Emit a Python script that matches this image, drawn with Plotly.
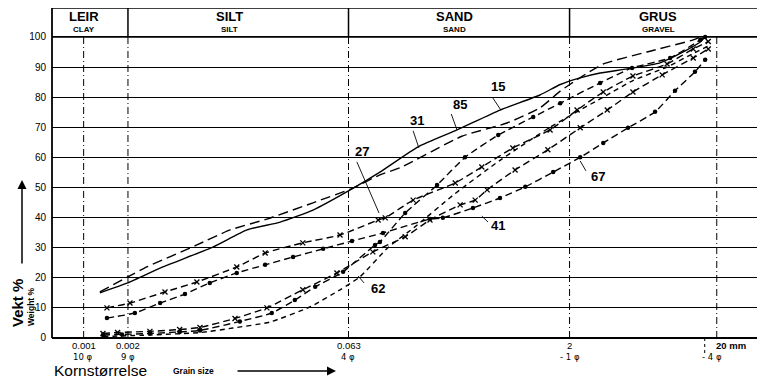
import math
import plotly.graph_objects as go

# ---------------- data (grain size in phi units, cumulative weight %) ----------------
s85_phi = [9.60, 8.97, 8.54, 7.41, 6.66, 5.83, 4.79, 3.89, 3.28, 2.83, 1.43, 0.41, -0.33, -0.79, -1.24, -1.76, -2.75, -3.79, -3.95]
s85_pct = [15.3, 20.3, 23.6, 30.9, 35.9, 39.5, 44.9, 49.8, 54.2, 56.5, 67.0, 71.4, 76.4, 82.0, 86.5, 91.0, 95.0, 99.0, 100.0]

s31_phi = [9.60, 8.97, 8.18, 7.05, 6.28, 5.53, 4.79, 3.95, 3.28, 2.42, 1.54, 0.57, -0.33, -0.79, -1.24, -1.69, -2.30, -3.04, -3.65, -3.95, -4.06]
s31_pct = [15.0, 18.3, 23.6, 30.2, 35.9, 38.5, 42.5, 49.2, 55.1, 63.5, 69.1, 75.7, 80.7, 84.2, 86.4, 88.0, 89.4, 91.4, 95.7, 98.3, 100.0]

s27_phi = [9.44, 8.92, 8.13, 7.41, 6.51, 5.87, 5.02, 4.18, 3.32, 3.16, 2.53, 1.58, 0.98, 0.28, -0.56, -1.17, -1.76, -2.43, -3.20, -3.79, -4.13]
s27_pct = [10.0, 11.6, 15.3, 18.6, 23.6, 28.2, 31.6, 34.2, 39.2, 39.9, 45.8, 51.5, 56.8, 63.1, 69.1, 75.7, 81.7, 87.0, 91.0, 96.0, 98.5]

s67_phi = [9.44, 8.81, 8.24, 7.68, 7.12, 6.51, 5.87, 5.24, 4.56, 3.91, 3.21, 2.15, 1.86, 1.18, 0.57, 0.00, -0.63, -1.24, -1.76, -2.32, -2.93, -3.38, -3.83, -4.06]
s67_pct = [6.6, 8.3, 11.6, 14.6, 18.3, 21.6, 24.3, 26.9, 29.6, 32.2, 34.9, 39.5, 39.9, 43.2, 46.5, 50.2, 55.1, 60.0, 64.8, 69.8, 75.1, 82.1, 88.4, 92.4]

s41_phi = [9.53, 9.20, 8.47, 7.80, 7.34, 6.55, 5.83, 5.02, 4.25, 3.44, 2.71, 2.15, 1.47, 1.13, 0.86, 0.23, -0.51, -1.24, -1.85, -2.43, -3.09, -3.79, -4.13]
s41_pct = [1.5, 1.8, 2.2, 2.8, 3.5, 6.5, 10.0, 16.0, 21.6, 28.6, 33.6, 39.2, 44.2, 45.8, 49.2, 55.8, 62.5, 69.8, 75.7, 81.7, 87.4, 93.0, 96.0]

s15_phi = [9.53, 9.10, 8.47, 7.80, 7.34, 6.44, 5.72, 5.20, 4.74, 4.11, 3.39, 3.28, 2.71, 1.99, 1.36, 0.61, -0.18, -0.79, -1.69, -2.41, -3.27, -3.95, -4.06]
s15_pct = [1.0, 1.2, 1.5, 2.0, 2.5, 5.5, 8.3, 12.6, 17.0, 22.0, 30.9, 31.9, 41.5, 50.8, 60.0, 67.4, 73.4, 78.0, 84.7, 89.7, 93.0, 99.0, 100.0]

s62_phi = [9.53, 8.47, 7.34, 6.60, 5.76, 4.86, 4.18, 3.73, 3.10, 2.49, 1.58, 0.57, -0.56, -1.76, -2.43, -3.20, -3.79, -4.13]
s62_pct = [0.5, 1.0, 1.8, 3.3, 5.3, 10.3, 16.0, 20.3, 30.0, 36.9, 48.0, 59.0, 70.0, 80.0, 85.5, 90.0, 94.5, 97.0]

# grain-size reference lines (mm)
grid_mm = [0.001, 0.002, 0.063, 2, 20]
mm_labels = ["0.001", "0.002", "0.063", "2"]
phi_labels = ["10 φ", "9 φ", "4 φ", "- 1 φ", "- 4 φ"]
phi_label_pos = [9.97, 8.97, 4.0, -1.0, -4.0]
class_edges_mm = [0.002, 0.063, 2]
class_names = ["LEIR", "SILT", "SAND", "GRUS"]
class_names_en = ["CLAY", "SILT", "SAND", "GRAVEL"]
class_centers_px = [84, 230, 454, 658]

# curve labels: (text, text_phi, text_pct, line_from_phi, line_from_pct, tip_phi, tip_pct)
curve_labels = [
    ("15", 0.61, 83.4, 0.73, 79.7, 0.55, 75.7),
    ("85", 1.47, 77.4, 1.67, 74.4, 1.54, 69.1),
    ("31", 2.44, 72.1, 2.53, 68.8, 2.40, 63.1),
    ("27", 3.68, 61.8, 3.80, 58.5, 3.30, 41.5),
    ("62", 3.32, 16.6, 3.64, 18.3, 3.77, 20.6),
    ("41", 0.61, 37.5, 0.84, 38.5, 0.98, 40.5),
    ("67", -1.64, 53.5, -1.37, 55.5, -1.24, 58.8),
]

def mm_to_phi(mm):
    return -math.log2(mm)

# ---------------- layout geometry ----------------
W, H = 760, 380
L, R, T, B = 52, 757, 8, 341
X_RANGE = [10.68, -5.23]
Y_RANGE = [-1, 109.6]
FONT = "Liberation Sans, Arial, sans-serif"
PHI_FONT = "DejaVu Sans, Liberation Sans, sans-serif"

def px_x(px):
    return (px - L) / (R - L)

def px_y(py):
    return (B - py) / (B - T)

fig = go.Figure()

def add_curve(phi, pct, dash, marker=None):
    mode = "lines+markers" if marker else "lines"
    mk = {}
    if marker == "x":
        mk = dict(symbol="x-thin", size=5, color="black", line=dict(width=1.3, color="black"))
    elif marker == "dot":
        mk = dict(symbol="circle", size=4.5, color="black")
    fig.add_trace(go.Scatter(
        x=phi, y=pct, mode=mode,
        line=dict(color="black", width=1.4, dash=dash, shape="spline", smoothing=0.5),
        marker=mk if mk else None,
        hoverinfo="skip", showlegend=False, cliponaxis=False,
    ))

add_curve(s85_phi, s85_pct, "10px,5px")
add_curve(s31_phi, s31_pct, "solid")
add_curve(s27_phi, s27_pct, "7px,4px", "x")
add_curve(s67_phi, s67_pct, "7px,4px", "dot")
add_curve(s41_phi, s41_pct, "7px,4px", "x")
add_curve(s15_phi, s15_pct, "7px,4px", "dot")
add_curve(s62_phi, s62_pct, "5px,4px")

shapes = []
# vertical dash-dot reference lines
for mm in grid_mm:
    p = mm_to_phi(mm)
    shapes.append(dict(type="line", xref="x", yref="y", x0=p, x1=p, y0=0, y1=100,
                       line=dict(color="black", width=1, dash="7px,3px,1px,3px"), layer="below"))
# header dividers
for mm in class_edges_mm:
    p = mm_to_phi(mm)
    shapes.append(dict(type="line", xref="x", yref="y", x0=p, x1=p, y0=100, y1=109.6,
                       line=dict(color="black", width=1.5)))
# header top line
shapes.append(dict(type="line", xref="paper", yref="y", x0=0, x1=1, y0=109.6, y1=109.6,
                   line=dict(color="black", width=1.6)))
# header bottom (100 %) and zero line thicker
for yv in [100, 0]:
    shapes.append(dict(type="line", xref="paper", yref="y", x0=0, x1=1, y0=yv, y1=yv,
                       line=dict(color="black", width=1.8)))
# y axis line
shapes.append(dict(type="line", xref="paper", yref="y", x0=0, x1=0, y0=0, y1=109.6,
                   line=dict(color="black", width=1.8)))
# small dotted tick at -4 phi
shapes.append(dict(type="line", xref="x", yref="paper", x0=-4.05, x1=-4.05,
                   y0=px_y(338), y1=px_y(353), line=dict(color="black", width=1, dash="dot")))
# curve label pointer lines
for (t, tx, ty, fx, fy, px_, py_) in curve_labels:
    shapes.append(dict(type="line", xref="x", yref="y", x0=fx, y0=fy, x1=px_, y1=py_,
                       line=dict(color="black", width=0.9)))

annotations = []
# header labels
for name, en, cx in zip(class_names, class_names_en, class_centers_px):
    annotations.append(dict(xref="paper", yref="paper", x=px_x(cx), y=px_y(16), text="<b>%s</b>" % name,
                            showarrow=False, font=dict(family=FONT, size=13, color="black"),
                            xanchor="center", yanchor="middle"))
    annotations.append(dict(xref="paper", yref="paper", x=px_x(cx), y=px_y(29), text="<b>%s</b>" % en,
                            showarrow=False, font=dict(family=FONT, size=8, color="black"),
                            xanchor="center", yanchor="middle"))
# curve labels
for (t, tx, ty, fx, fy, px_, py_) in curve_labels:
    annotations.append(dict(xref="x", yref="y", x=tx, y=ty, text="<b>%s</b>" % t, showarrow=False,
                            font=dict(family=FONT, size=13, color="black"),
                            xanchor="center", yanchor="middle"))
# x tick labels (mm)
for mm, lab in zip(grid_mm[:4], mm_labels):
    annotations.append(dict(xref="x", yref="paper", x=mm_to_phi(mm), y=px_y(345), text=lab,
                            showarrow=False, font=dict(family=FONT, size=9.5, color="black"),
                            xanchor="center", yanchor="middle"))
annotations.append(dict(xref="x", yref="paper", x=mm_to_phi(20), y=px_y(345), text="<b>20 mm</b>",
                        showarrow=False, font=dict(family=FONT, size=9.5, color="black"),
                        xanchor="left", yanchor="middle", xshift=-3))
# x tick labels (phi)
for p, lab in zip(phi_label_pos, phi_labels):
    xs = 9 if lab.startswith("- 4") else 0
    annotations.append(dict(xref="x", yref="paper", x=p, y=px_y(357), text=lab,
                            showarrow=False, font=dict(family=PHI_FONT, size=8.5, color="black"),
                            xanchor="center", yanchor="middle", xshift=xs))
# axis titles
annotations.append(dict(xref="paper", yref="paper", x=px_x(17), y=px_y(303), text="<b>Vekt %</b>",
                        textangle=-90, showarrow=False, font=dict(family=FONT, size=15, color="black"),
                        xanchor="center", yanchor="middle"))
annotations.append(dict(xref="paper", yref="paper", x=px_x(31), y=px_y(307), text="<b>Weight %</b>",
                        textangle=-90, showarrow=False, font=dict(family=FONT, size=8.5, color="black"),
                        xanchor="center", yanchor="middle"))
annotations.append(dict(xref="paper", yref="paper", x=px_x(52), y=px_y(370), text="Kornstørrelse",
                        showarrow=False, font=dict(family=FONT, size=15.5, color="black"),
                        xanchor="left", yanchor="middle"))
annotations.append(dict(xref="paper", yref="paper", x=px_x(193), y=px_y(371), text="<b>Grain size</b>",
                        showarrow=False, font=dict(family=FONT, size=8.5, color="black"),
                        xanchor="center", yanchor="middle"))
# arrows
annotations.append(dict(xref="paper", yref="paper", x=px_x(22), y=px_y(180), ax=0, ay=85, text="",
                        showarrow=True, arrowhead=2, arrowsize=1.2, arrowwidth=1.5, arrowcolor="black"))
annotations.append(dict(xref="paper", yref="paper", x=px_x(336), y=px_y(371), ax=-100, ay=0, text="",
                        showarrow=True, arrowhead=2, arrowsize=1.2, arrowwidth=1.5, arrowcolor="black"))

fig.update_layout(
    width=W, height=H,
    margin=dict(l=L, r=W - R, t=T, b=H - B, autoexpand=False),
    paper_bgcolor="white", plot_bgcolor="white",
    shapes=shapes, annotations=annotations,
    showlegend=False, hovermode=False,
    xaxis=dict(range=X_RANGE, showgrid=False, zeroline=False, showticklabels=False, ticks="",
               showline=False, fixedrange=True),
    yaxis=dict(range=Y_RANGE, tickvals=list(range(0, 101, 10)),
               ticktext=[str(v) for v in range(0, 101, 10)],
               showgrid=True, gridcolor="black", gridwidth=1.2, zeroline=False,
               showline=False, ticks="", ticklabelstandoff=5,
               tickfont=dict(family=FONT, size=10, color="black"), fixedrange=True),
)

fig.write_html("out.html", config={"displayModeBar": False},
               post_script="document.body.style.margin='0px';document.body.style.overflow='hidden';")
